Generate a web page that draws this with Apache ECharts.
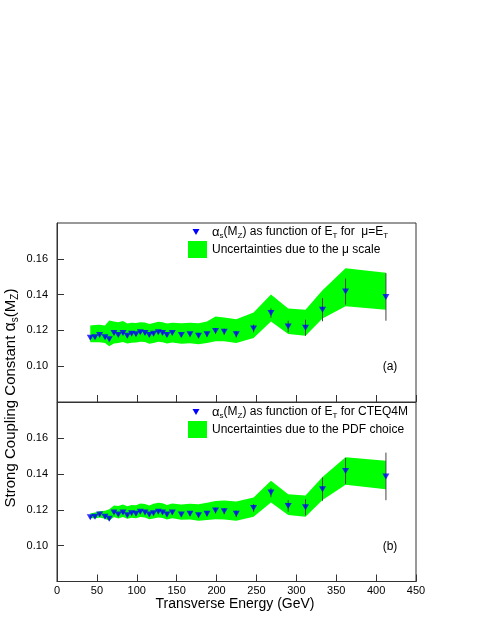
<!DOCTYPE html>
<html>
<head>
<meta charset="utf-8">
<script src="https://cdn.jsdelivr.net/npm/echarts@6.0.0/dist/echarts.min.js"></script>
<style>
html, body { margin: 0; padding: 0; background: #fff; }
#chart { width: 485px; height: 627px; }
</style>
</head>
<body>
<div id="chart"></div>
<script>
// transverse energy bins (GeV)
const et = [41.7, 47.6, 53.4, 60.2, 65.5, 71.4, 76.8, 82.7, 88.1, 93.5, 99.0, 104.4, 110.3, 115.7, 121.0, 127.0, 132.3,
  137.8, 144.5, 155.8, 166.7, 177.4, 188.0, 198.7, 209.6, 224.7, 246.4, 268.2, 289.8, 311.5, 332.8, 361.7, 412.3]
// alpha_s(M_Z) per bin
const alphaS = [0.1159, 0.1162, 0.1174, 0.1162, 0.1151, 0.1185, 0.1174, 0.1185, 0.1170, 0.1181, 0.1178, 0.1189, 0.1185,
  0.1174, 0.1181, 0.1189, 0.1185, 0.1174, 0.1185, 0.1174, 0.1178, 0.1170, 0.1178, 0.1196, 0.1193, 0.1178, 0.1211,
  0.1297, 0.1222, 0.1215, 0.1316, 0.1417, 0.1387]
// statistical errors
const statErr = [0.0008, 0.0008, 0.0008, 0.0008, 0.0008, 0.0008, 0.0008, 0.0008, 0.0008, 0.0008, 0.0009, 0.0009, 0.0009,
  0.0009, 0.0010, 0.0010, 0.0010, 0.0010, 0.0010, 0.0011, 0.0012, 0.0013, 0.0014, 0.0015, 0.0017, 0.0018, 0.0022,
  0.0026, 0.0032, 0.0045, 0.0065, 0.0073, 0.0133]
// band (a): mu scale
const scaleUp = [0.1228, 0.1230, 0.1232, 0.1228, 0.1255, 0.1250, 0.1245, 0.1252, 0.1238, 0.1243, 0.1241, 0.1246, 0.1244,
  0.1236, 0.1241, 0.1248, 0.1245, 0.1238, 0.1243, 0.1240, 0.1243, 0.1240, 0.1250, 0.1278, 0.1272, 0.1262, 0.1300,
  0.1400, 0.1322, 0.1316, 0.1425, 0.1547, 0.1522]
const scaleLo = [0.1134, 0.1134, 0.1134, 0.1130, 0.1112, 0.1127, 0.1130, 0.1135, 0.1127, 0.1131, 0.1133, 0.1137, 0.1135,
  0.1125, 0.1130, 0.1137, 0.1134, 0.1127, 0.1132, 0.1125, 0.1128, 0.1123, 0.1130, 0.1140, 0.1140, 0.1129, 0.1158,
  0.1250, 0.1180, 0.1170, 0.1266, 0.1335, 0.1316]
// band (b): PDF choice
const pdfUp = [0.1180, 0.1185, 0.1192, 0.1195, 0.1204, 0.1225, 0.1222, 0.1230, 0.1220, 0.1228, 0.1226, 0.1236, 0.1233,
  0.1224, 0.1234, 0.1240, 0.1237, 0.1228, 0.1236, 0.1230, 0.1235, 0.1232, 0.1240, 0.1250, 0.1252, 0.1247, 0.1269,
  0.1363, 0.1288, 0.1280, 0.1384, 0.1494, 0.1475]
const pdfLo = [0.1155, 0.1152, 0.1158, 0.1150, 0.1140, 0.1160, 0.1152, 0.1160, 0.1150, 0.1156, 0.1153, 0.1160, 0.1157,
  0.1148, 0.1152, 0.1158, 0.1155, 0.1146, 0.1153, 0.1145, 0.1146, 0.1140, 0.1143, 0.1148, 0.1146, 0.1140, 0.1162,
  0.1241, 0.1172, 0.1162, 0.1256, 0.1340, 0.1316]
const xTicks = ['0', '50', '100', '150', '200', '250', '300', '350', '400', '450']

const font = '"Liberation Sans", Arial, Helvetica, sans-serif'
const frame = '#333'
const rich = {
  sub: { fontSize: 8, lineHeight: 8, verticalAlign: 'bottom', fontFamily: font, fill: '#000' },
  g: { fontSize: 13, lineHeight: 16, fontFamily: font, fill: '#000' }
}

const chart = echarts.init(document.getElementById('chart'))

function xAxis(idx, labels) {
  return {
    type: 'value', gridIndex: idx, min: 0, max: 450, interval: 50,
    axisLine: { show: true, lineStyle: { color: frame } },
    axisTick: { show: true, inside: true, length: 7, lineStyle: { color: frame } },
    axisLabel: {
      show: labels, margin: 4, color: '#000', fontSize: 11, fontFamily: font,
      showMinLabel: true, showMaxLabel: true,
      formatter: v => xTicks[Math.round(v / 50)]
    },
    splitLine: { show: false }
  }
}

function yAxis(idx) {
  return {
    type: 'value', gridIndex: idx, min: 0.08, max: 0.18, interval: 0.02,
    axisLine: { show: true, lineStyle: { color: frame } },
    axisTick: { show: true, inside: true, length: 7, lineStyle: { color: frame } },
    axisLabel: {
      margin: 9, color: '#000', fontSize: 11, fontFamily: font,
      showMinLabel: false, showMaxLabel: false,
      formatter: v => v.toFixed(2)
    },
    splitLine: { show: false }
  }
}

function bandSeries(idx, up, lo) {
  return {
    type: 'custom', xAxisIndex: idx, yAxisIndex: idx, silent: true, clip: true,
    data: [[et[0], up[0]]],
    renderItem: function (params, api) {
      const pts = []
      for (let i = 0; i < et.length; i++) pts.push(api.coord([et[i], up[i]]))
      for (let i = et.length - 1; i >= 0; i--) pts.push(api.coord([et[i], lo[i]]))
      return { type: 'polygon', shape: { points: pts }, style: { fill: '#00ff00' } }
    }
  }
}

function errSeries(idx) {
  return {
    type: 'custom', xAxisIndex: idx, yAxisIndex: idx, silent: true,
    data: et.map((e, i) => [e, alphaS[i] - statErr[i], alphaS[i] + statErr[i]]),
    encode: { x: 0, y: [1, 2] },
    renderItem: function (params, api) {
      const a = api.coord([api.value(0), api.value(1)])
      const b = api.coord([api.value(0), api.value(2)])
      return {
        type: 'line',
        shape: { x1: a[0], y1: a[1], x2: b[0], y2: b[1] },
        style: { stroke: '#444', lineWidth: 1 }
      }
    }
  }
}

function pointSeries(idx) {
  return {
    type: 'scatter', xAxisIndex: idx, yAxisIndex: idx, silent: true,
    symbol: 'triangle', symbolRotate: 180, symbolSize: [7, 6],
    itemStyle: { color: '#0000ff' },
    data: et.map((e, i) => [e, alphaS[i]])
  }
}

function legend(y0, line1, line2) {
  return [
    {
      type: 'polygon',
      shape: { points: [[192.5, y0 - 3], [199.5, y0 - 3], [196, y0 + 3]] },
      style: { fill: '#0000ff' }
    },
    { type: 'rect', shape: { x: 188, y: y0 + 9, width: 19, height: 17 }, style: { fill: '#00ff00' } },
    {
      type: 'text', x: 212, y: y0,
      style: { text: line1, rich: rich, fontSize: 12, lineHeight: 16, fontFamily: font, fill: '#000', verticalAlign: 'middle' }
    },
    {
      type: 'text', x: 212, y: y0 + 18,
      style: { text: line2, fontSize: 12, fontFamily: font, fill: '#000', verticalAlign: 'middle' }
    }
  ]
}

const option = {
  animation: false,
  backgroundColor: '#fff',
  grid: [
    { left: 57, top: 223, width: 359, height: 179, show: true, borderColor: frame, borderWidth: 1 },
    { left: 57, top: 402.5, width: 359, height: 179, show: true, borderColor: frame, borderWidth: 1 }
  ],
  xAxis: [xAxis(0, false), xAxis(1, true)],
  yAxis: [yAxis(0), yAxis(1)],
  series: [
    bandSeries(0, scaleUp, scaleLo), errSeries(0), pointSeries(0),
    bandSeries(1, pdfUp, pdfLo), errSeries(1), pointSeries(1)
  ],
  graphic: [
    ...legend(232, '{g|α}{sub|s}(M{sub|Z}) as function of E{sub|T} for  μ=E{sub|T}', 'Uncertainties due to the μ scale'),
    ...legend(412, '{g|α}{sub|s}(M{sub|Z}) as function of E{sub|T} for CTEQ4M', 'Uncertainties due to the PDF choice'),
    { type: 'text', x: 390, y: 367, style: { text: '(a)', fontSize: 12, fontFamily: font, fill: '#000', align: 'center', verticalAlign: 'middle' } },
    { type: 'text', x: 390, y: 547, style: { text: '(b)', fontSize: 12, fontFamily: font, fill: '#000', align: 'center', verticalAlign: 'middle' } },
    {
      type: 'text', x: 235, y: 604,
      style: { text: 'Transverse Energy (GeV)', fontSize: 14, fontFamily: font, fill: '#000', align: 'center', verticalAlign: 'middle' }
    },
    {
      type: 'text', x: 11, y: 398, rotation: Math.PI / 2,
      style: {
        text: 'Strong Coupling Constant {g|α}{sub|s}(M{sub|Z})',
        rich: {
          sub: { fontSize: 10, lineHeight: 10, verticalAlign: 'bottom', fontFamily: font, fill: '#000' },
          g: { fontSize: 16, lineHeight: 19, fontFamily: font, fill: '#000' }
        },
        fontSize: 15, lineHeight: 19, fontFamily: font, fill: '#000', align: 'center', verticalAlign: 'middle'
      }
    }
  ]
}
chart.setOption(option)
</script>
</body>
</html>
